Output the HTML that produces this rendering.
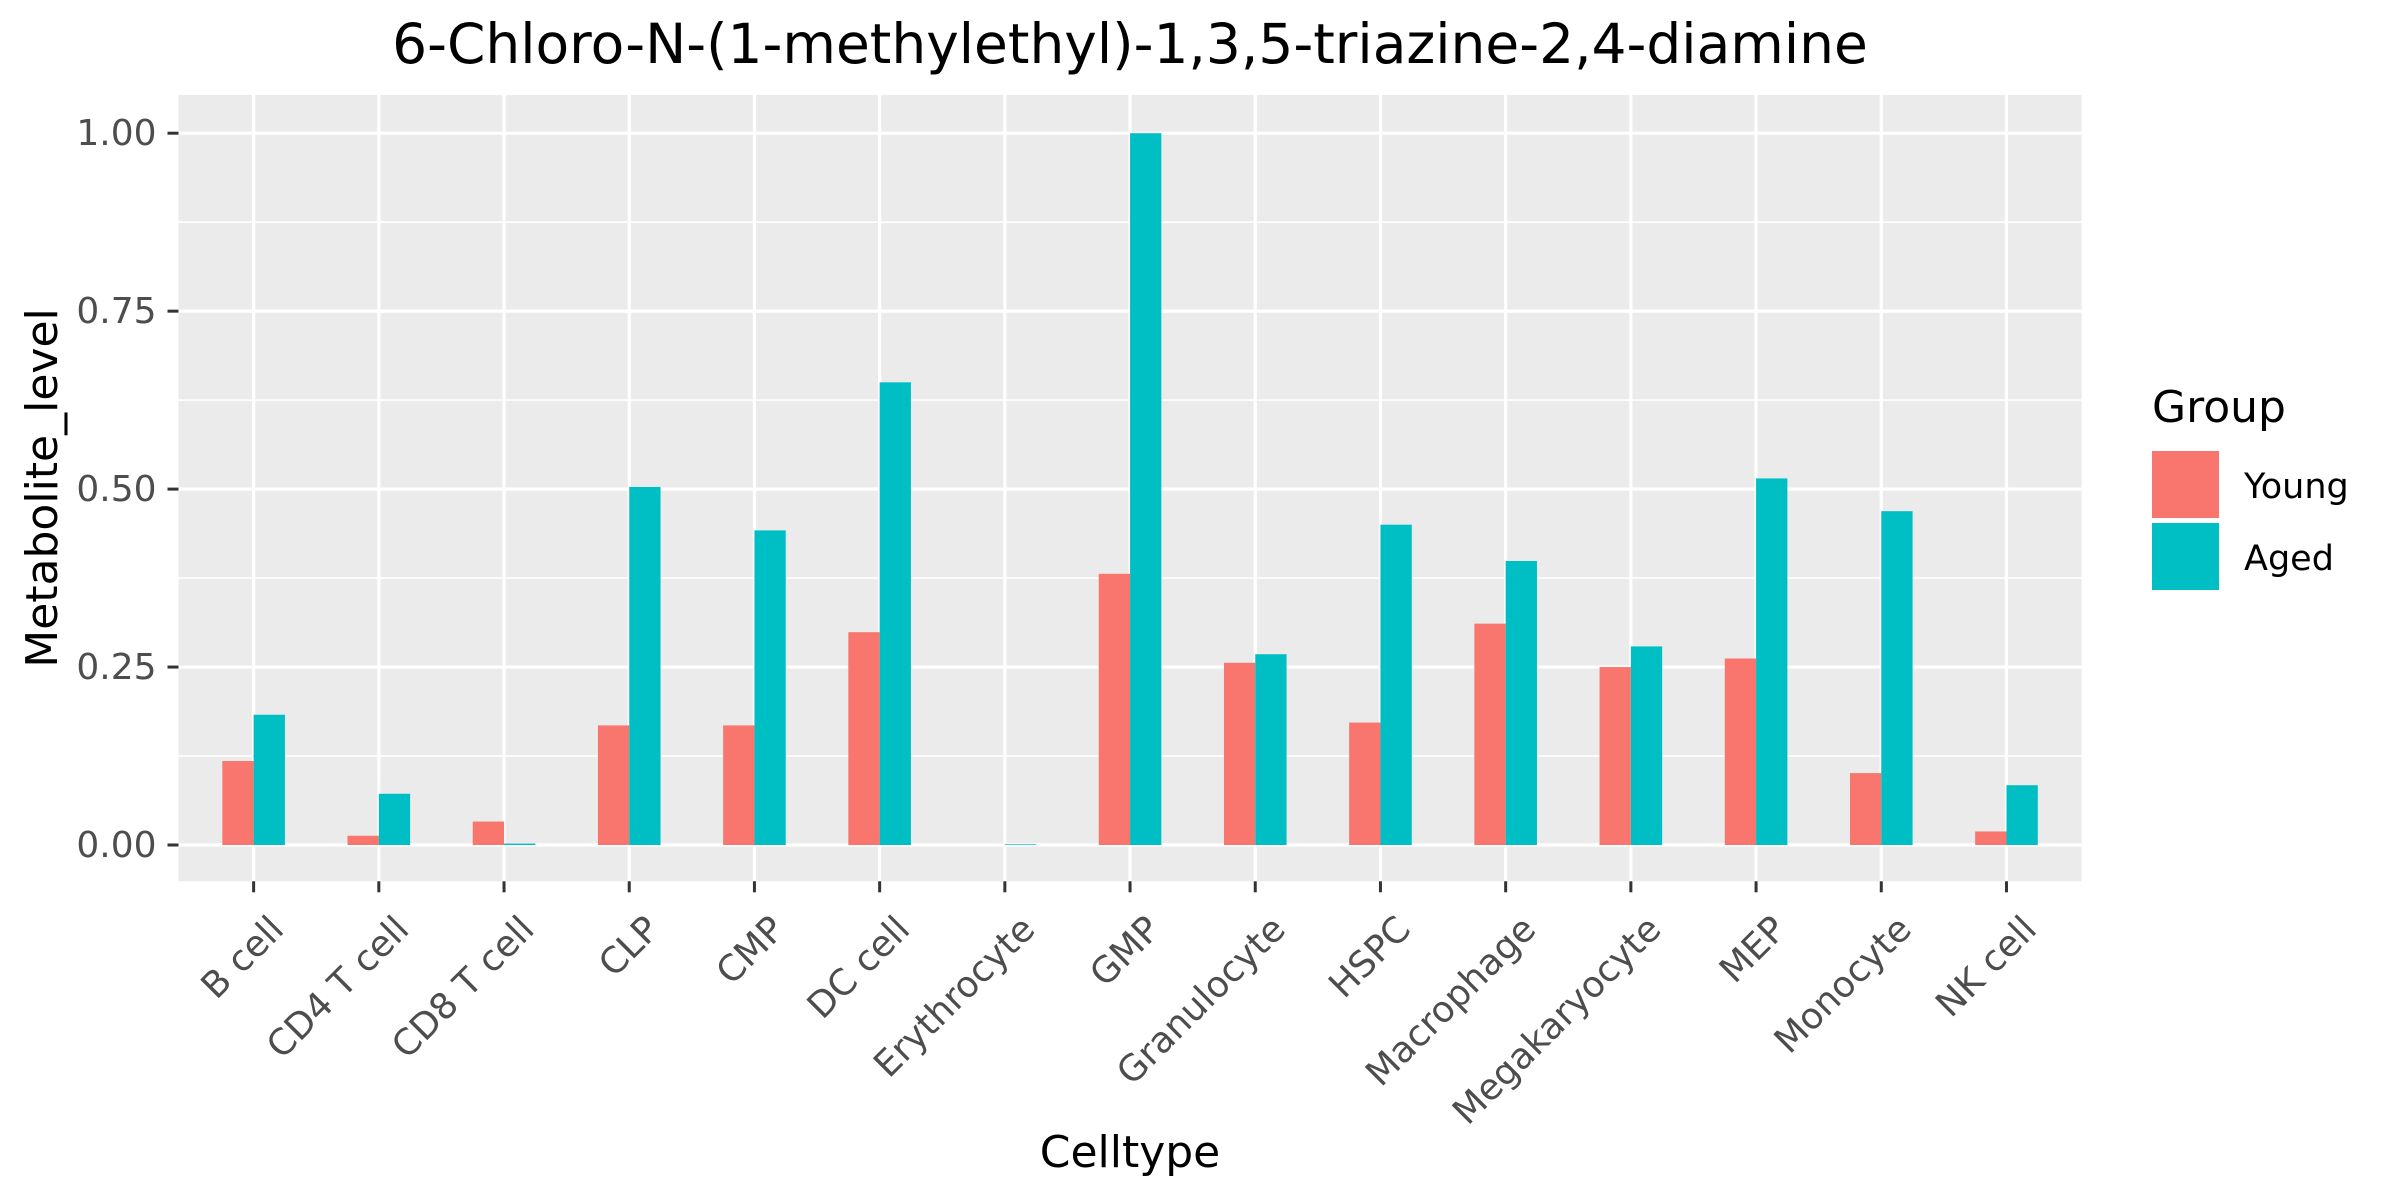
<!DOCTYPE html>
<html><head><meta charset="utf-8"><style>body{margin:0;background:#fff}svg{display:block;font-family:"DejaVu Sans","Liberation Sans",sans-serif}</style></head>
<body>
<svg id="chart" width="2400" height="1200" viewBox="0 0 2400 1200" xmlns="http://www.w3.org/2000/svg">
<rect width="2400" height="1200" fill="#fff"/>
<text x="1130" y="63" font-size="55" text-anchor="middle" fill="#000">6-Chloro-N-(1-methylethyl)-1,3,5-triazine-2,4-diamine</text>
<g id="panel"></g>
<text x="1130" y="1167" font-size="44" text-anchor="middle" fill="#000">Celltype</text>
<text transform="translate(57,488) rotate(-90)" font-size="44" text-anchor="middle" fill="#000">Metabolite_level</text>
<g>
<text x="2152" y="422" font-size="44" fill="#000">Group</text>
<rect x="2152" y="451" width="67" height="67" fill="#F8766D"/>
<rect x="2152" y="523" width="67" height="67" fill="#00BFC4"/>
<text x="2244" y="498" font-size="35" fill="#000">Young</text>
<text x="2244" y="570" font-size="35" fill="#000">Aged</text>
</g>
</svg>
<script>
const categories=["B cell","CD4 T cell","CD8 T cell","CLP","CMP","DC cell","Erythrocyte","GMP","Granulocyte","HSPC","Macrophage","Megakaryocyte","MEP","Monocyte","NK cell"];
const young=[0.118,0.013,0.033,0.168,0.168,0.299,0.0,0.381,0.256,0.172,0.311,0.250,0.262,0.101,0.019];
const aged=[0.183,0.072,0.002,0.503,0.442,0.650,0.001,1.0,0.268,0.450,0.399,0.279,0.515,0.469,0.084];
const yTicks=[0,0.25,0.5,0.75,1.0];
const yTickLabels=["0.00","0.25","0.50","0.75","1.00"];
const NS="http://www.w3.org/2000/svg";
const PL=178.5,PR=2081.6,PT=95,PB=881.3,Y0=845,Y1=133.2;
const sy=v=>Y0+(Y1-Y0)*v;
const step=(PR-PL)/(categories.length+0.2);
const sx=i=>PL+step*(i+0.6);
const g=document.getElementById('panel');
function mk(tag,a,parent){const e=document.createElementNS(NS,tag);for(const k in a)e.setAttribute(k,a[k]);(parent||g).appendChild(e);return e;}
const bg=mk('rect',{x:PL,y:PT,width:PR-PL,height:PB-PT,fill:'#EBEBEB'});


for(let i=0;i<yTicks.length-1;i++){const v=(yTicks[i]+yTicks[i+1])/2;const l=mk('line',{x1:PL,x2:PR,y1:sy(v),y2:sy(v),stroke:'#fff','stroke-width':1.6});

}
yTicks.forEach((v,i)=>{const l=mk('line',{x1:PL,x2:PR,y1:sy(v),y2:sy(v),stroke:'#fff','stroke-width':3.2});


const t=mk('line',{x1:PL-11,x2:PL,y1:sy(v),y2:sy(v),stroke:'#333','stroke-width':3});


const tx=mk('text',{x:PL-22,y:sy(v)+12,'font-size':36,'text-anchor':'end',fill:'#4D4D4D'});tx.textContent=yTickLabels[i];

});
const bw=step*0.25;
categories.forEach((c,i)=>{const x=sx(i);
const l=mk('line',{x1:x,x2:x,y1:PT,y2:PB,stroke:'#fff','stroke-width':3.2});


const t=mk('line',{x1:x,x2:x,y1:PB,y2:PB+11,stroke:'#333','stroke-width':3});


const tx=mk('text',{transform:`translate(${x+32},${PB+50}) rotate(-45)`,'font-size':36,'text-anchor':'end',fill:'#4D4D4D'});tx.textContent=c;


const a=mk('rect',{x:x-bw,y:Math.min(sy(young[i]),Y0),width:bw,height:Math.abs(Y0-sy(young[i])),fill:'#F8766D'});


const b=mk('rect',{x:x,y:Math.min(sy(aged[i]),Y0),width:bw,height:Math.abs(Y0-sy(aged[i])),fill:'#00BFC4'});

});
</script>
</body></html>
